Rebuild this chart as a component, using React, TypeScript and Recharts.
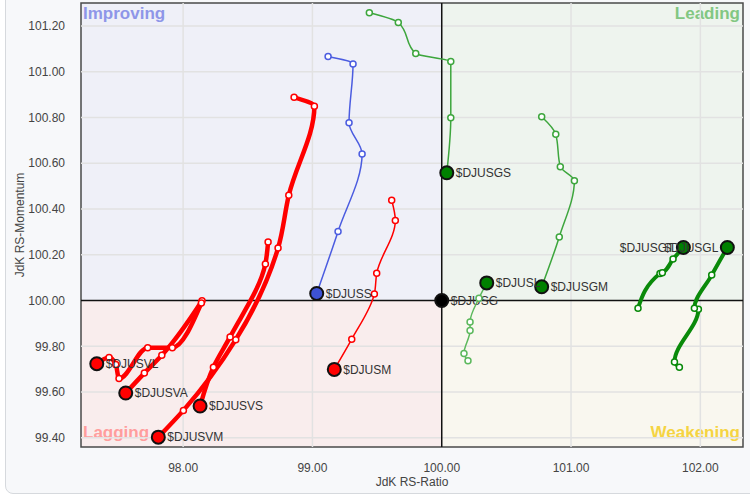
import {
  ScatterChart,
  Scatter,
  XAxis,
  YAxis,
  ReferenceArea,
  ReferenceLine,
} from "recharts";

type Pt = [number, number];

// axis ticks
const xTicks = [98, 99, 100, 101, 102];
const yTicks = [99.4, 99.6, 99.8, 100, 100.2, 100.4, 100.6, 100.8, 101, 101.2];

// tails, oldest point first, head last
const DJUSGS: Pt[] = [[99.44, 101.257], [99.664, 101.215], [99.799, 101.079], [100.07, 101.044], [100.07, 100.799], [100.039, 100.558]];
const DJUSS: Pt[] = [[99.121, 101.066], [99.314, 101.034], [99.283, 100.777], [99.384, 100.64], [99.198, 100.302], [99.033, 100.031]];
const DJUSM: Pt[] = [[99.613, 100.438], [99.641, 100.35], [99.497, 100.119], [99.479, 100.029], [99.304, 99.831], [99.169, 99.699]];
const DJUSG: Pt[] = [[100, 100]];
const DJUSL: Pt[] = [[100.203, 99.737], [100.172, 99.769], [100.219, 99.869], [100.219, 99.906], [100.288, 100.01], [100.348, 100.077]];
const DJUSGM: Pt[] = [[100.773, 100.803], [100.882, 100.726], [100.917, 100.585], [101.026, 100.523], [100.909, 100.278], [100.773, 100.06]];
const DJUSGT: Pt[] = [[101.518, 99.966], [101.688, 100.118], [101.706, 100.121], [101.789, 100.181], [101.869, 100.232]];
const DJUSGL: Pt[] = [[101.838, 99.709], [101.8, 99.731], [101.985, 99.962], [101.954, 99.966], [102.088, 100.111], [102.209, 100.232]];
const DJUSVL: Pt[] = [[98.141, 99.989], [97.916, 99.794], [97.726, 99.794], [97.504, 99.659], [97.479, 99.721], [97.427, 99.751], [97.332, 99.724]];
const DJUSVA: Pt[] = [[98.146, 99.999], [97.835, 99.761], [97.7, 99.683], [97.556, 99.596]];
const DJUSVS: Pt[] = [[98.657, 100.256], [98.636, 100.16], [98.363, 99.841], [98.234, 99.709], [98.131, 99.539]];
const DJUSVM: Pt[] = [[98.858, 100.888], [99.015, 100.849], [98.817, 100.46], [98.734, 100.229], [98.407, 99.829], [98.002, 99.52], [97.808, 99.403]];

const X_MIN = 97.21;
const X_MAX = 102.33;
const Y_MIN = 99.36;
const Y_MAX = 101.3;

const FONT = '"Liberation Sans", Arial, sans-serif';

interface SeriesDef {
  name: string;
  pts: Pt[];
  color: string;
  head: string;
  width: number;
  curve: any;
  labelLeft?: boolean;
}

const RED = "#ff0000";
const GREEN_HEAD = "#008000";

const series: SeriesDef[] = [
  { name: "$DJUSVM", pts: DJUSVM, color: RED, head: RED, width: 4.5, curve: "monotoneY" },
  { name: "$DJUSVS", pts: DJUSVS, color: RED, head: RED, width: 4.5, curve: "monotoneY" },
  { name: "$DJUSVA", pts: DJUSVA, color: RED, head: RED, width: 4.5, curve: "monotoneY" },
  { name: "$DJUSVL", pts: DJUSVL, color: RED, head: RED, width: 4.5, curve: "monotone" },
  { name: "$DJUSM", pts: DJUSM, color: RED, head: RED, width: 1.5, curve: "monotoneY" },
  { name: "$DJUSS", pts: DJUSS, color: "#4b5ce0", head: "#3d52d5", width: 1.5, curve: "monotoneY" },
  { name: "$DJUSGS", pts: DJUSGS, color: "#3da63d", head: GREEN_HEAD, width: 1.5, curve: "monotoneY" },
  { name: "$DJUSGM", pts: DJUSGM, color: "#3da63d", head: GREEN_HEAD, width: 1.5, curve: "monotoneY" },
  { name: "$DJUSG", pts: DJUSG, color: "#000", head: "#000", width: 1.5, curve: "linear" },
  { name: "$DJUSL", pts: DJUSL, color: "#5cb85c", head: GREEN_HEAD, width: 1.5, curve: "monotoneY" },
  { name: "$DJUSGT", pts: DJUSGT, color: "#0a8a0a", head: GREEN_HEAD, width: 4, curve: "monotoneY", labelLeft: true },
  { name: "$DJUSGL", pts: DJUSGL, color: "#0a8a0a", head: GREEN_HEAD, width: 4, curve: "monotoneY", labelLeft: true },
];

const makeShape = (s: SeriesDef) => (props: any) => {
  const { cx, cy, payload } = props;
  if (cx == null || cy == null) return <g />;
  if (!payload.head) {
    return <circle cx={cx} cy={cy} r={3} fill="#fff" stroke={s.color} strokeWidth={1.5} />;
  }
  return (
    <g>
      <circle cx={cx} cy={cy} r={6.5} fill={s.head} stroke="#111" strokeWidth={2} />
      <text
        x={s.labelLeft ? cx - 9 : cx + 9}
        y={cy}
        dy="0.36em"
        textAnchor={s.labelLeft ? "end" : "start"}
        fontSize={12}
        fontFamily={FONT}
        fill="#333"
      >
        {s.name}
      </text>
    </g>
  );
};

const quadLabel = (text: string, color: string, corner: string) => (props: any) => {
  const vb = props.viewBox || {};
  const left = corner[1] === "l";
  const top = corner[0] === "t";
  const x = left ? vb.x + 2 : vb.x + vb.width - 3;
  const y = top ? vb.y + 16 : vb.y + vb.height - 9;
  return (
    <text x={x} y={y} textAnchor={left ? "start" : "end"} fill={color} fontSize={17} fontWeight="bold" fontFamily={FONT}>
      {text}
    </text>
  );
};

export default function App() {
  return (
    <div style={{ position: "absolute", left: 0, top: 0, width: 750, height: 497, overflow: "hidden", background: "#fff", fontFamily: FONT }}>
      <div
        style={{
          position: "absolute",
          left: 5,
          top: -10,
          width: 780,
          height: 502,
          border: "1px solid #d6d9dd",
          borderRadius: 8,
          background: "#f7f8fa",
        }}
      />
      <div style={{ position: "absolute", left: 0, top: 0 }}>
        <ScatterChart width={750} height={497} margin={{ top: 3, right: 7, bottom: 20, left: 0 }}>
          <XAxis
            type="number"
            dataKey="x"
            domain={[X_MIN, X_MAX]}
            ticks={xTicks}
            allowDataOverflow
            tickFormatter={(v) => v.toFixed(2)}
            tick={{ fill: "#444", fontSize: 12, fontFamily: FONT }}
            tickLine={false}
            axisLine={false}
            tickSize={0}
            tickMargin={16}
            height={30}
            label={{ value: "JdK RS-Ratio", position: "bottom", offset: 0, fill: "#444", fontSize: 12, fontFamily: FONT }}
          />
          <YAxis
            type="number"
            dataKey="y"
            domain={[Y_MIN, Y_MAX]}
            ticks={yTicks}
            allowDataOverflow
            tickFormatter={(v) => v.toFixed(2)}
            tick={{ fill: "#444", fontSize: 12, fontFamily: FONT }}
            tickLine={false}
            axisLine={false}
            tickSize={0}
            tickMargin={16}
            width={81}
            label={{
              value: "JdK RS-Momentum",
              angle: -90,
              position: "insideLeft",
              offset: 20,
              fill: "#444",
              fontSize: 12,
              fontFamily: FONT,
              style: { textAnchor: "middle" },
            }}
          />

          {/* quadrants */}
          <ReferenceArea x1={X_MIN} x2={100} y1={100} y2={Y_MAX} fill="#eff0f8" fillOpacity={1} stroke="none" label={quadLabel("Improving", "#8e96e8", "tl")} />
          <ReferenceArea x1={100} x2={X_MAX} y1={100} y2={Y_MAX} fill="#eef4ee" fillOpacity={1} stroke="none" label={quadLabel("Leading", "#82c782", "tr")} />
          <ReferenceArea x1={X_MIN} x2={100} y1={Y_MIN} y2={100} fill="#f9eded" fillOpacity={1} stroke="none" label={quadLabel("Lagging", "#ff9d9d", "bl")} />
          <ReferenceArea x1={100} x2={X_MAX} y1={Y_MIN} y2={100} fill="#f9f7ef" fillOpacity={1} stroke="none" label={quadLabel("Weakening", "#f5d442", "br")} />

          {/* grid */}
          {xTicks.filter((t) => t !== 100).map((t) => (
            <ReferenceLine key={"gx" + t} x={t} stroke="#e2e2e2" strokeWidth={1.5} />
          ))}
          {yTicks.filter((t) => t !== 100).map((t) => (
            <ReferenceLine key={"gy" + t} y={t} stroke="#e2e2e2" strokeWidth={1.5} />
          ))}
          <ReferenceLine x={100} stroke="#111" strokeWidth={1.5} />
          <ReferenceLine y={100} stroke="#111" strokeWidth={1.5} />
          <ReferenceArea x1={X_MIN} x2={X_MAX} y1={Y_MIN} y2={Y_MAX} fill="none" stroke="#4a4a4a" strokeWidth={1.5} />

          {series.map((s) => (
            <Scatter
              key={s.name}
              name={s.name}
              data={s.pts.map(([x, y], i) => ({ x, y, head: i === s.pts.length - 1 }))}
              fill={s.color}
              line={{ stroke: s.color, strokeWidth: s.width }}
              lineJointType={s.curve}
              shape={makeShape(s)}
              isAnimationActive={false}
            />
          ))}
        </ScatterChart>
      </div>
    </div>
  );
}
